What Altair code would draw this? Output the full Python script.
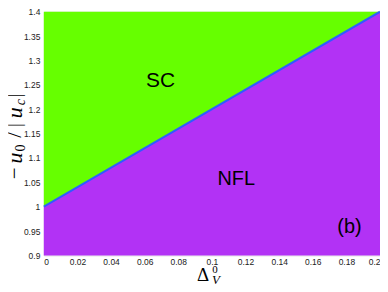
import altair as alt
import pandas as pd

# data
delta = [0.0, 0.2]          # Delta_V^0
boundary = [1.0, 1.4]       # -u0/|uc| phase boundary
x_ticks = [0, 0.02, 0.04, 0.06, 0.08, 0.1, 0.12, 0.14, 0.16, 0.18, 0.2]
y_ticks = [0.9, 0.95, 1.0, 1.05, 1.1, 1.15, 1.2, 1.25, 1.3, 1.35, 1.4]

df = pd.DataFrame({"d": delta, "u": boundary})

W, H = 338, 245
GREEN = "#66ff00"
PURPLE = "#b232f5"
BLUE = "#2f5cff"

xs = alt.Scale(domain=[0, 0.2], nice=False, zero=False)
ys = alt.Scale(domain=[0.9, 1.4], nice=False, zero=False)

lab = dict(labelFont="Liberation Sans", labelFontSize=8.5, labelColor="#222",
           domain=False, ticks=False, grid=False, title=None, format="~g",
           labelOverlap=False)
XAX = alt.Axis(values=x_ticks, labelPadding=2, **lab)
YAX = alt.Axis(values=y_ticks, labelPadding=4, **lab)

base = alt.Chart(df)

green = base.mark_area(color=GREEN, opacity=1).encode(
    x=alt.X("d:Q", scale=xs, axis=XAX),
    y=alt.Y("u:Q", scale=ys, axis=YAX),
    y2=alt.datum(1.4),
)
purple = base.mark_area(color=PURPLE, opacity=1).encode(
    x=alt.X("d:Q", scale=xs, axis=XAX), y=alt.Y("u:Q", scale=ys, axis=YAX),
    y2=alt.datum(0.9)
)
line = base.mark_line(color=BLUE, strokeWidth=2).encode(
    x=alt.X("d:Q", scale=xs, axis=XAX), y=alt.Y("u:Q", scale=ys, axis=YAX)
)

def label(txt, xv, yv, size=20):
    return alt.Chart(pd.DataFrame({"t": [txt]})).mark_text(
        font="Liberation Sans", fontSize=size, color="black",
        align="center", baseline="middle"
    ).encode(x=alt.datum(xv, scale=xs, axis=XAX),
             y=alt.datum(yv, scale=ys, axis=YAX), text="t:N")

sc = label("SC", 0.0694, 1.258, 21)
nfl = label("NFL", 0.1145, 1.056, 20)
bl = label("(b)", 0.1818, 0.958, 20)

def piece(txt, px, py, size=18, style="normal", angle=0, font="Liberation Serif"):
    return alt.Chart(pd.DataFrame({"t": [txt]})).mark_text(
        font=font, fontSize=size, fontStyle=style, color="black",
        align="center", baseline="middle", angle=angle
    ).encode(x=alt.value(px), y=alt.value(py), text="t:N")

# y-axis title  -u_0/|u_c|  (rotated)
TX = -29
ytitle = [
    piece("\u2212", TX, 162.5, 21, "normal", 270),
    piece("u", TX, 147, 22, "italic", 270),
    piece("0", TX + 6, 137, 14, "normal", 270),
    piece("/", TX, 124, 20, "normal", 270),
    piece("|", TX, 114, 19, "normal", 270),
    piece("u", TX, 101.5, 22, "italic", 270),
    piece("c", TX + 6, 91, 14, "italic", 270),
    piece("|", TX, 84, 19, "normal", 270),
]
# x-axis title  Delta_V^0
xtitle = [
    piece("\u0394", 160, H + 20, 19, "normal"),
    piece("0", 172, H + 15, 11, "normal"),
    piece("V", 173, H + 25, 13, "italic"),
]

chart = alt.layer(green, purple, line, sc, nfl, bl, *ytitle, *xtitle).properties(
    width=W, height=H,
    padding={"left": 36, "top": 3, "right": 0, "bottom": 30},
    autosize=alt.AutoSizeParams(type="none"),
).configure_view(stroke="#444", strokeWidth=1).configure(background="white")

chart.save("out.html", embed_options={"renderer": "svg", "actions": False})
